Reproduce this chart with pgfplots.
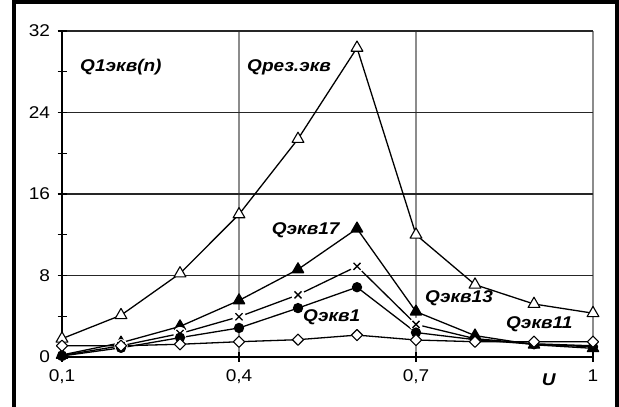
\documentclass[border=0pt]{standalone}
\usepackage{pgfplots}
\pgfplotsset{compat=1.18}
\usepackage{fontspec}
\setmainfont{Liberation Sans}
\usepackage{graphicx}
\newcommand{\sx}[1]{\scalebox{1.12}[1]{#1}}
\newcommand{\tl}[1]{{\fontsize{17}{20}\selectfont\scalebox{1.12}[1]{#1}}}
\begin{document}
\begin{tikzpicture}[x=1pt,y=1pt,font=\fontsize{17}{20}\selectfont]
\useasboundingbox (0,0) rectangle (619,407);
\begin{axis}[
  at={(62pt,50pt)}, anchor=south west,
  scale only axis, width=531pt, height=326pt,
  xmin=0.1, xmax=1, ymin=0, ymax=32,
  clip=false,
  axis x line*=bottom, axis y line*=left,
  axis line style={-, line width=1.4pt, black},
  xtick={0.1,0.4,0.7,1},
  xticklabels={{\tl{0,1}},{\tl{0,4}},{\tl{0,7}},{\tl{1}}},
  ytick={0,8,16,24,32},
  yticklabels={\tl{0},\tl{8},\tl{16},\tl{24},\tl{32}},
  minor ytick={4,12,20,28},
  tick align=center,
  major tick length=9pt, minor tick length=9pt,
  tick style={black, line width=1.3pt},
  tick label style={font=\fontsize{17}{20}\selectfont},
  yticklabel style={anchor=east, xshift=-4pt},
  xticklabel style={anchor=north, yshift=-5pt},
  xmajorgrids, ymajorgrids,
  x grid style={line width=1.4pt, black!45},
  y grid style={line width=1.4pt, black!85},
  every axis plot/.append style={line width=1.3pt, black, line join=round},
]
% Q rez.ekv (open triangles)
\addplot[mark=triangle*, mark size=6.8pt, mark options={fill=white, line width=1.1pt}] coordinates {
(0.1,1.8) (0.2,4.1) (0.3,8.2) (0.4,14.0) (0.5,21.4) (0.6,30.35) (0.7,12.0) (0.8,7.1) (0.9,5.2) (1.0,4.3)};
% Q ekv 17 (filled triangles)
\addplot[mark=triangle*, mark size=6.5pt, mark options={fill=black}] coordinates {
(0.1,0.2) (0.2,1.4) (0.3,3.0) (0.4,5.55) (0.5,8.6) (0.6,12.6) (0.7,4.45) (0.8,2.1) (0.9,1.2) (1.0,0.85)};
% Q ekv 13 (crosses)
\addplot[mark=none] coordinates {
(0.1,0.15) (0.2,1.1) (0.3,2.3) (0.4,3.95) (0.5,6.1) (0.6,8.9) (0.7,3.2) (0.8,1.8) (0.9,1.3) (1.0,1.1)};
\addplot[only marks, mark=*, mark size=6pt, mark options={white}] coordinates {
(0.2,1.1) (0.3,2.3) (0.4,3.95) (0.5,6.1) (0.6,8.9) (0.7,3.2)};
\addplot[only marks, mark=x, mark size=5pt, mark options={line width=1.3pt}] coordinates {
(0.1,0.15) (0.2,1.1) (0.3,2.3) (0.4,3.95) (0.5,6.1) (0.6,8.9) (0.7,3.2) (0.8,1.8) (0.9,1.3) (1.0,1.1)};
% Q ekv 1 (filled circles)
\addplot[mark=*, mark size=4.5pt, mark options={fill=black}] coordinates {
(0.1,0.1) (0.2,0.9) (0.3,1.9) (0.4,2.85) (0.5,4.8) (0.6,6.85) (0.7,2.4) (0.8,1.7) (0.9,1.25) (1.0,1.0)};
% Q1 ekv(n) (open diamonds)
\addplot[mark=diamond*, mark size=5.6pt, mark options={fill=white, line width=1.1pt, xscale=1.33}] coordinates {
(0.1,1.1) (0.2,1.1) (0.3,1.25) (0.4,1.5) (0.5,1.7) (0.6,2.15) (0.7,1.67) (0.8,1.5) (0.9,1.5) (1.0,1.5)};
\node[anchor=west, inner sep=0pt, font=\fontsize{17}{20}\selectfont\bfseries\itshape] at (axis cs:0.1305,28.47) {\sx{Q1экв(n)}};
\node[anchor=west, inner sep=0pt, font=\fontsize{17}{20}\selectfont\bfseries\itshape] at (axis cs:0.4136,28.47) {\sx{Qрез.экв}};
\node[anchor=west, inner sep=0pt, font=\fontsize{17}{20}\selectfont\bfseries\itshape] at (axis cs:0.4554,12.4) {\sx{Qэкв17}};
\node[anchor=west, inner sep=0pt, font=\fontsize{17}{20}\selectfont\bfseries\itshape] at (axis cs:0.5085,3.9) {\sx{Qэкв1}};
\node[anchor=west, inner sep=0pt, font=\fontsize{17}{20}\selectfont\bfseries\itshape] at (axis cs:0.7153,5.76) {\sx{Qэкв13}};
\node[anchor=west, inner sep=0pt, font=\fontsize{17}{20}\selectfont\bfseries\itshape] at (axis cs:0.8525,3.2) {\sx{Qэкв11}};
\node[inner sep=0pt, font=\fontsize{17}{20}\selectfont\bfseries\itshape] at (axis cs:0.925,-2.26) {\sx{U}};
\end{axis}
\draw[line width=4pt] (14,-10) -- (14,405) -- (617,405) -- (617,-10);
\end{tikzpicture}
\end{document}
